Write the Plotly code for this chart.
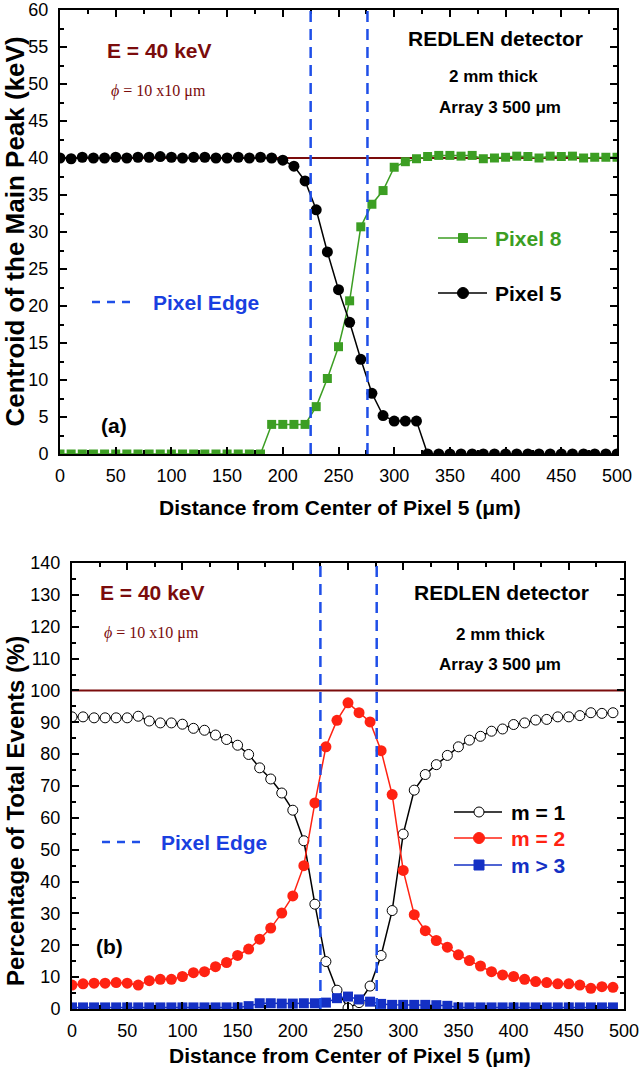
import plotly.graph_objects as go

# ---------------- data ----------------
dist_top = list(range(0, 501, 10))
pixel5 = [40.0, 39.9, 40.1, 40.0, 40.0, 40.1, 40.0, 40.1, 40.1, 40.2,
          40.1, 40.0, 40.1, 40.1, 40.0, 40.0, 40.1, 40.0, 40.1, 40.0,
          39.7, 38.9, 36.9, 33.0, 27.3, 22.2, 17.8, 12.8, 8.2, 5.2,
          4.45, 4.45, 4.45,
          0, 0, 0, 0, 0, 0, 0, 0, 0, 0, 0, 0, 0, 0, 0, 0, 0, 0]
pixel8 = [0, 0, 0, 0, 0, 0, 0, 0, 0, 0, 0, 0, 0, 0, 0, 0, 0, 0, 0,
          4.0, 4.0, 4.0, 4.0, 6.4, 10.2, 14.5, 20.7, 30.7, 33.75, 35.6,
          38.75, 39.5, 39.9, 40.2, 40.35, 40.35, 40.25, 40.35, 39.9, 40.0,
          40.1, 40.25, 40.2, 40.0, 40.25, 40.2, 40.25, 40.0, 40.1, 40.1, 40.1]

dist_bot = list(range(0, 491, 10))
m1 = [91.7, 91.7, 91.4, 91.4, 91.4, 91.4, 91.9, 90.4, 89.8, 89.8,
      89.4, 88.1, 87.5, 86.0, 84.6, 82.8, 79.9, 75.7, 72.2, 67.8,
      62.4, 52.8, 32.9, 14.9, 5.9, 0.3, 2.0, 7.2, 16.8, 30.9,
      54.9, 68.7, 73.6, 76.7, 79.6, 82.3, 84.4, 85.6, 87.2, 87.9,
      89.3, 89.8, 90.7, 90.9, 91.7, 91.7, 92.1, 93.0, 92.8, 93.0]
m2 = [7.5, 7.9, 8.1, 8.1, 8.3, 8.1, 7.5, 8.9, 9.3, 9.3,
      10.2, 11.4, 11.7, 13.3, 14.6, 16.8, 18.8, 21.9, 25.4, 30.1,
      35.5, 45.0, 64.7, 82.3, 90.6, 96.1, 93.0, 90.1, 81.1, 67.3,
      43.5, 29.6, 24.6, 21.5, 19.4, 17.0, 15.2, 13.5, 11.7, 10.7,
      10.2, 9.3, 8.6, 8.3, 7.9, 7.9, 7.5, 6.5, 7.0, 6.8]
m3 = [0.5, 0.5, 0.5, 0.5, 0.5, 0.5, 0.5, 0.5, 0.5, 0.5,
      0.5, 0.5, 0.5, 0.5, 0.5, 0.5, 0.9, 1.8, 1.8, 1.7,
      1.7, 1.8, 1.8, 2.0, 3.4, 3.9, 3.0, 2.3, 1.6, 1.3,
      1.3, 1.3, 1.3, 1.2, 1.0, 0.5, 0.5, 0.5, 0.5, 0.5,
      0.5, 0.5, 0.5, 0.5, 0.5, 0.5, 0.5, 0.5, 0.5, 0.5]

pixel_edges = [225, 276]
beam_energy = 40
total_pct = 100
x_range = [0, 500]

# ---------------- style ----------------
W, H = 640, 1073
SANS = "Liberation Sans, Arial, sans-serif"
SERIF = "Liberation Serif, Times New Roman, serif"
GREEN = "#3C9E23"
BROWN = "#7B0C0C"
EDGE_BLUE = "#1F4FE8"
TXT_BLUE = "#1A3FE0"
RED = "#FF2212"
DBLUE = "#1430C4"


def px(x):
    return x / W


def py(y):
    return 1 - y / H


fig = go.Figure()

# top panel
fig.add_trace(go.Scatter(x=x_range, y=[beam_energy, beam_energy], mode="lines",
                         line=dict(color=BROWN, width=2), xaxis="x", yaxis="y",
                         showlegend=False, hoverinfo="skip"))
fig.add_trace(go.Scatter(x=dist_top, y=pixel8, mode="lines+markers", name="Pixel 8",
                         line=dict(color=GREEN, width=1.5),
                         marker=dict(symbol="square", size=9, color=GREEN),
                         xaxis="x", yaxis="y", showlegend=False))
fig.add_trace(go.Scatter(x=dist_top, y=pixel5, mode="lines+markers", name="Pixel 5",
                         line=dict(color="black", width=1.5),
                         marker=dict(symbol="circle", size=11, color="black"),
                         xaxis="x", yaxis="y", showlegend=False))

# bottom panel
fig.add_trace(go.Scatter(x=x_range, y=[total_pct, total_pct], mode="lines",
                         line=dict(color=BROWN, width=2), xaxis="x2", yaxis="y2",
                         showlegend=False, hoverinfo="skip"))
fig.add_trace(go.Scatter(x=dist_bot, y=m1, mode="lines+markers", name="m = 1",
                         line=dict(color="black", width=1.5),
                         marker=dict(symbol="circle", size=10, color="white",
                                     line=dict(color="black", width=1)),
                         xaxis="x2", yaxis="y2", showlegend=False))
fig.add_trace(go.Scatter(x=dist_bot, y=m2, mode="lines+markers", name="m = 2",
                         line=dict(color=RED, width=1.5),
                         marker=dict(symbol="circle", size=11, color=RED),
                         xaxis="x2", yaxis="y2", showlegend=False))
fig.add_trace(go.Scatter(x=dist_bot, y=m3, mode="lines+markers", name="m > 3",
                         line=dict(color=DBLUE, width=1.5),
                         marker=dict(symbol="square", size=10, color=DBLUE),
                         xaxis="x2", yaxis="y2", showlegend=False))

shapes = []
for xr, yr in (("x", "y domain"), ("x2", "y2 domain")):
    for e in pixel_edges:
        shapes.append(dict(type="line", xref=xr, yref=yr, x0=e, x1=e, y0=0, y1=1,
                           line=dict(color=EDGE_BLUE, width=2.5, dash="11px,7px")))

annotations = []


def text(x, y, s, size=21, color="black", anchor="center", font=SANS, angle=0):
    annotations.append(dict(xref="paper", yref="paper", x=px(x), y=py(y), text=s,
                            showarrow=False, xanchor=anchor, yanchor="middle",
                            textangle=angle,
                            font=dict(family=font, size=size, color=color)))


def leg_line(x0, x1, y, color, dash=None, width=1.5):
    shapes.append(dict(type="line", xref="paper", yref="paper", x0=px(x0), x1=px(x1),
                       y0=py(y), y1=py(y),
                       line=dict(color=color, width=width, dash=dash or "solid")))


def leg_marker(cx, cy, kind, size, fill, edge=None):
    r = size / 2
    shapes.append(dict(type="circle" if kind == "circle" else "rect",
                       xref="paper", yref="paper",
                       x0=px(cx - r), x1=px(cx + r), y0=py(cy + r), y1=py(cy - r),
                       fillcolor=fill, line=dict(color=edge or fill, width=1)))


# ---- top panel texts / legend ----
text(159, 51, "<b>E = 40 keV</b>", 21, BROWN)
text(109, 91, "<i>ϕ</i> = 10 x10 μm", 16, BROWN, anchor="left", font=SERIF)
text(495, 39, "<b>REDLEN detector</b>", 21)
text(493, 76, "<b>2 mm thick</b>", 17)
text(500, 107, "<b>Array 3 500 μm</b>", 17)
text(99, 425, "<b>(a)</b>", 21, anchor="left")

leg_line(438, 487, 238, GREEN)
leg_marker(463, 238, "square", 9, GREEN)
text(493, 238, "<b>Pixel 8</b>", 21, GREEN, anchor="left")
leg_line(438, 487, 293, "black")
leg_marker(463, 293, "circle", 11, "black")
text(493, 293, "<b>Pixel 5</b>", 21, "black", anchor="left")
leg_line(92, 131, 302, EDGE_BLUE, dash="8px,7px", width=2.5)
text(151, 302, "<b>Pixel Edge</b>", 21, TXT_BLUE, anchor="left")

# ---- bottom panel texts / legend ----
text(152, 592, "<b>E = 40 keV</b>", 21, BROWN)
text(102, 633, "<i>ϕ</i> = 10 x10 μm", 16, BROWN, anchor="left", font=SERIF)
text(501, 592, "<b>REDLEN detector</b>", 21)
text(500, 634, "<b>2 mm thick</b>", 17)
text(500, 664, "<b>Array 3 500 μm</b>", 17)
text(94, 946, "<b>(b)</b>", 21, anchor="left")

leg_line(102, 141, 842, EDGE_BLUE, dash="8px,7px", width=2.5)
text(159, 842, "<b>Pixel Edge</b>", 21, TXT_BLUE, anchor="left")

leg_line(454, 502, 812, "black")
leg_marker(479, 812, "circle", 10, "white", "black")
text(509, 812, "<b>m = 1</b>", 21, "black", anchor="left")
leg_line(454, 502, 838, RED)
leg_marker(479, 838, "circle", 11, RED)
text(509, 838, "<b>m = 2</b>", 21, RED, anchor="left")
leg_line(454, 502, 865, DBLUE)
leg_marker(479, 865, "square", 10, DBLUE)
text(509, 865, "<b>m > 3</b>", 21, DBLUE, anchor="left")

# ---- axis titles ----
text(340, 507, "<b>Distance from Center of Pixel 5 (μm)</b>", 21)
text(350, 1055, "<b>Distance from Center of Pixel 5 (μm)</b>", 21)
text(14.5, 232, "<b>Centroid of the Main Peak (keV)</b>", 26, angle=-90)
text(15, 811, "<b>Percentage of Total Events (%)</b>", 24, angle=-90)


def xaxis_cfg(domain, anchor):
    return dict(domain=domain, anchor=anchor, range=x_range, tickmode="array",
                tickvals=list(range(0, 501, 50)), ticks="inside", ticklen=7,
                tickwidth=1.5, tickcolor="black", showline=True, linewidth=2,
                linecolor="black", mirror="ticks", showgrid=False, zeroline=False,
                ticklabelstandoff=4, automargin=False, ticklabeloverflow="allow",
                minor=dict(dtick=25, ticks="inside", ticklen=4, tickwidth=1.5,
                           tickcolor="black", showgrid=False),
                tickfont=dict(family=SANS, size=18, color="black"))


def yaxis_cfg(domain, anchor, rng, dtick):
    return dict(domain=domain, anchor=anchor, range=rng, dtick=dtick, tick0=0,
                ticks="inside", ticklen=7, tickwidth=1.5, tickcolor="black",
                showline=True, linewidth=2, linecolor="black", mirror="ticks",
                showgrid=False, zeroline=False, ticklabelstandoff=6, automargin=False,
                ticklabeloverflow="allow",
                minor=dict(dtick=dtick / 2, ticks="inside", ticklen=4, tickwidth=1.5,
                           tickcolor="black", showgrid=False),
                tickfont=dict(family=SANS, size=18, color="black"))


fig.update_layout(
    width=W, height=H, autosize=False,
    margin=dict(l=0, r=0, t=0, b=0, autoexpand=False),
    paper_bgcolor="white", plot_bgcolor="white",
    showlegend=False,
    xaxis=xaxis_cfg([px(60), px(617)], "y"),
    yaxis=yaxis_cfg([py(454), py(10)], "x", [0, 60], 5),
    xaxis2=xaxis_cfg([px(72), px(624)], "y2"),
    yaxis2=yaxis_cfg([py(1009), py(563)], "x2", [0, 140], 10),
    shapes=shapes,
    annotations=annotations,
)

fig.write_html("out.html",
               config={"displayModeBar": False},
               post_script="document.body.style.margin='0px';"
                           "document.body.style.overflow='hidden';")
